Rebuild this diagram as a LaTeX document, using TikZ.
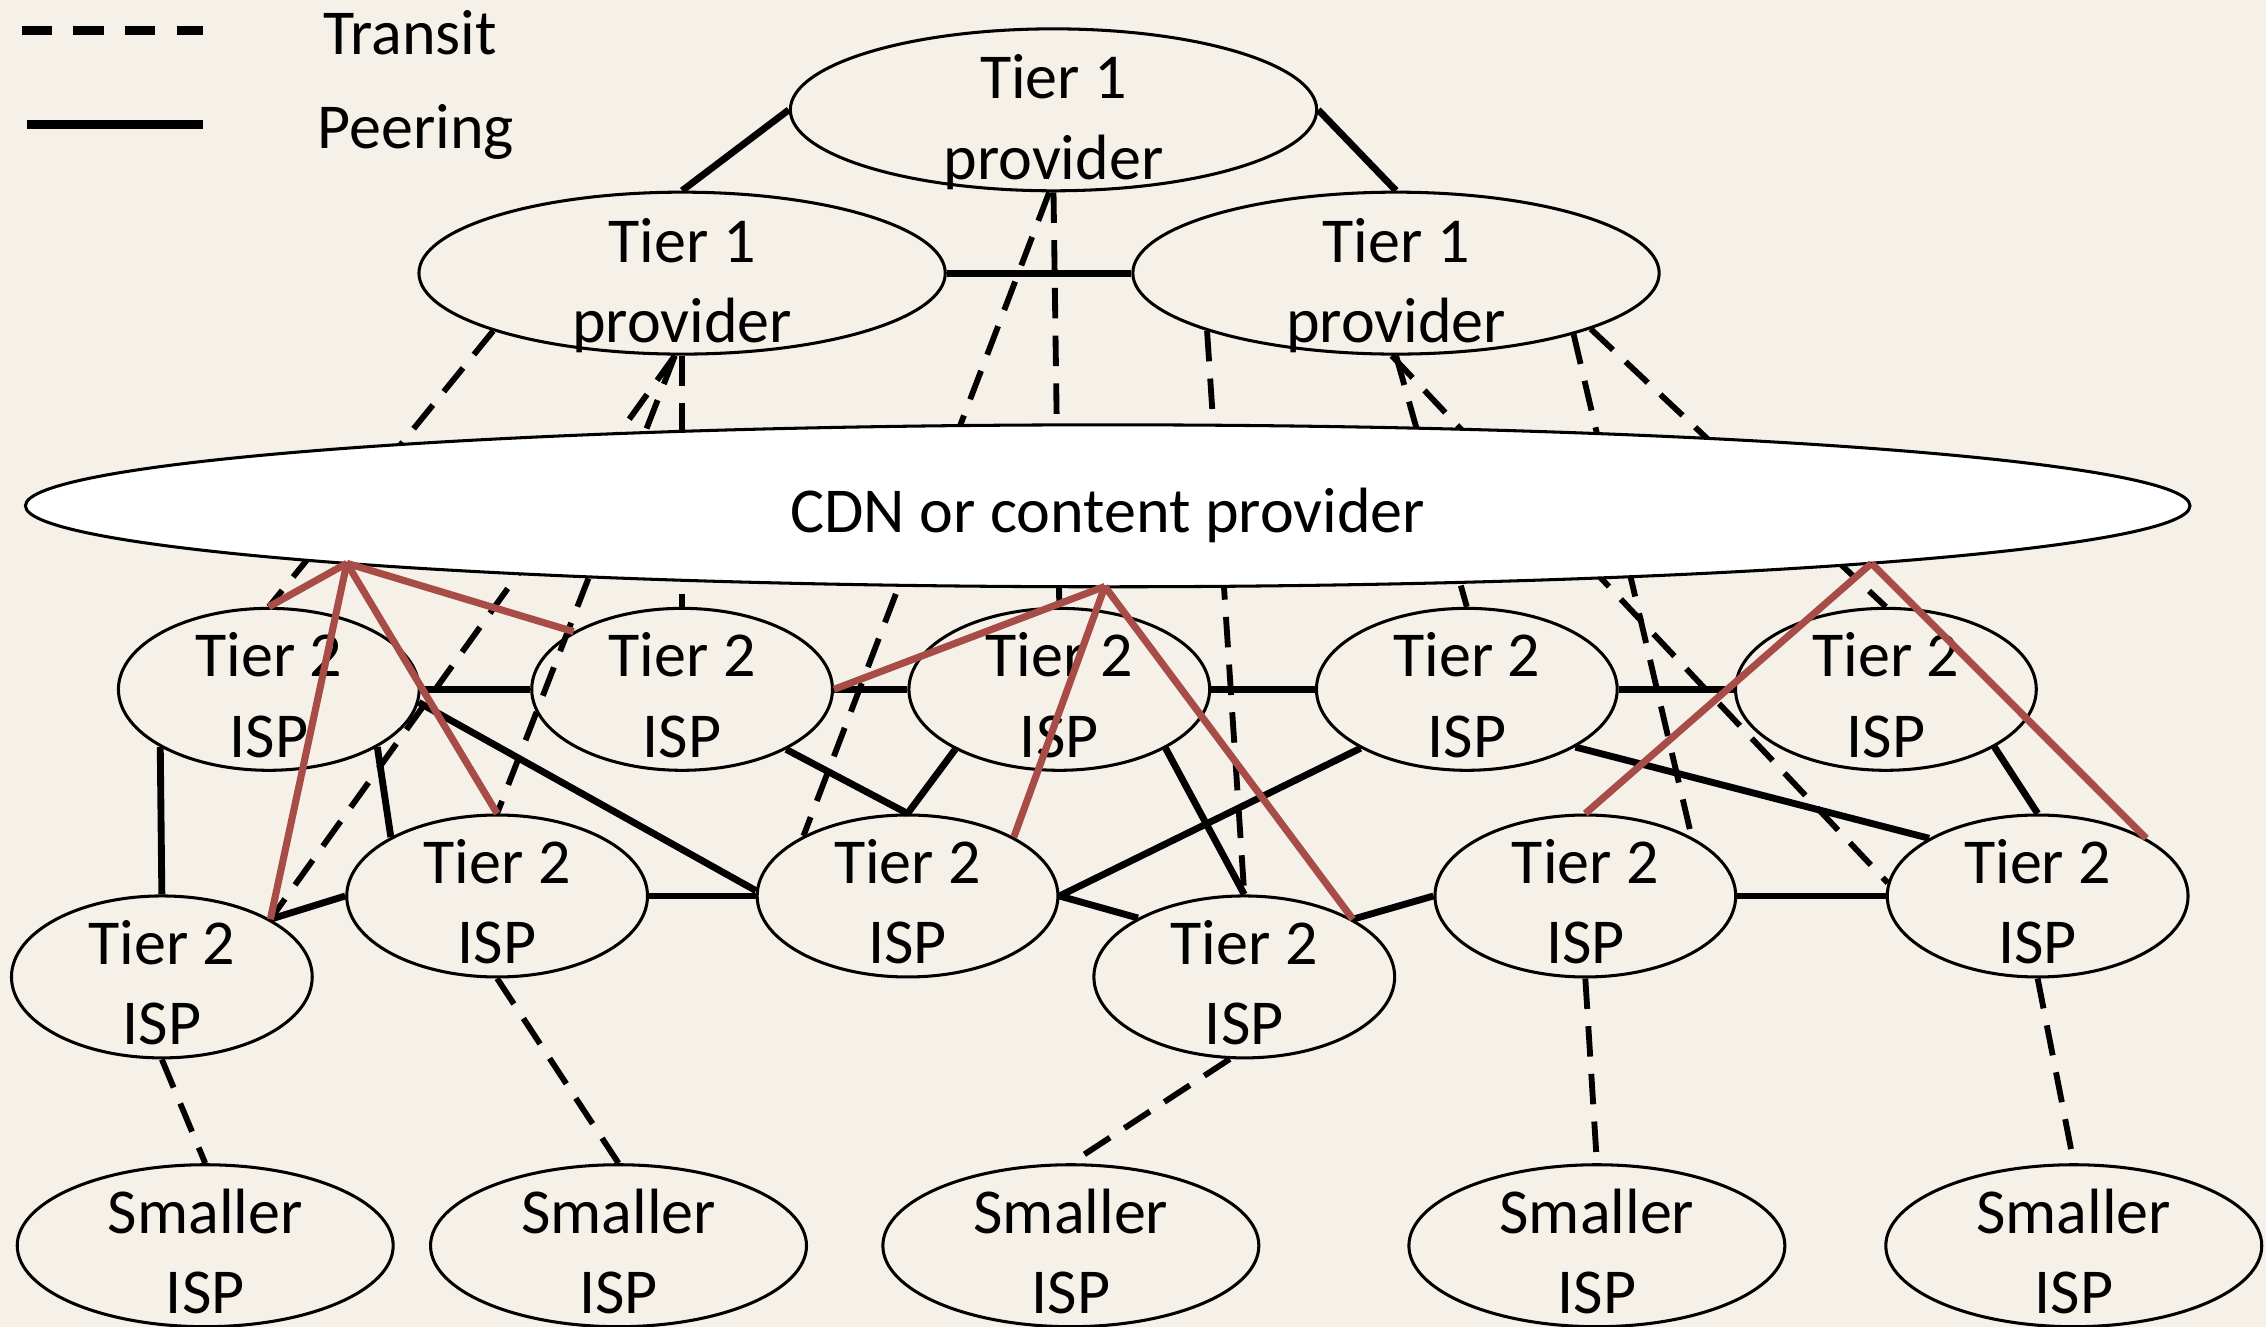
\documentclass[tikz,border=0pt]{standalone}
\usepackage{fontspec}
\setmainfont{Carlito}
\usetikzlibrary{shapes.geometric}
\definecolor{bgc}{RGB}{245,241,233}
\definecolor{redl}{RGB}{168,76,72}
\begin{document}
\begin{tikzpicture}[x=0.01cm,y=-0.01cm,
  every node/.style={font=\fontsize{12.6}{15.8}\selectfont},
  ell/.style={ellipse, draw, line width=0.6pt, inner sep=0pt, minimum height=1.12cm},
  tone/.style={ell, minimum width=3.64cm, label={[yshift=-0.085cm, align=center]center:Tier 1\\provider}},
  ttwo/.style={ell, minimum width=2.08cm, label={[yshift=-0.04cm, align=center]center:Tier 2\\ISP}},
  small/.style={ell, minimum width=2.6cm, label={[yshift=-0.04cm, align=center]center:Smaller\\ISP}},
  transit/.style={line width=1.15pt, dash pattern=on 6pt off 3.4pt},
  peer/.style={line width=1.35pt},
  cdnlink/.style={line width=1.4pt, redl},
  legtext/.style={anchor=base west, inner sep=0pt}]
\useasboundingbox (0,0) rectangle (1568,918);
\clip (0,0) rectangle (1568,918);
\fill[bgc] (0,0) rectangle (1568,918);

% Tier 1
\node[tone] (t1t) at (729,76) {};
\node[tone] (t1l) at (472,189) {};
\node[tone] (t1r) at (966,189) {};
% Tier 2
\node[ttwo] (t2a) at (186,477) {};
\node[ttwo] (t2b) at (472,477) {};
\node[ttwo] (t2c) at (733,477) {};
\node[ttwo] (t2d) at (1015,477) {};
\node[ttwo] (t2e) at (1305,477) {};
\node[ttwo] (t2g) at (344,620) {};
\node[ttwo] (t2h) at (628,620) {};
\node[ttwo] (t2j) at (1097,620) {};
\node[ttwo] (t2k) at (1410,620) {};
\node[ttwo] (t2f) at (112,676) {};
\node[ttwo] (t2i) at (861,676) {};
% Smaller
\node[small] (s1) at (142,862) {};
\node[small] (s2) at (428,862) {};
\node[small] (s3) at (741,862) {};
\node[small] (s4) at (1105,862) {};
\node[small] (s5) at (1435,862) {};

% transit from tier 1 (behind CDN)
\draw[transit] (t1l.197) -- (t2a.north);
\draw[transit] (t1l.-95) -- (t2f.28);
\draw[transit] (t1l.-95) -- (t2g.north);
\draw[transit] (t1l.south) -- (t2b.north);
\draw[transit] (t1t.-93) -- (t2h.150);
\draw[transit] (t1t.south) -- (t2c.north);
\draw[transit] (t1r.197) -- (t2i.north);
\draw[transit] (t1r.south) -- (t2d.north);
\draw[transit] (t1r.-93) -- (t2k.175);
\draw[transit] (t1r.-19) -- (t2j.29);
\draw[transit] (t1r.-16) -- (t2e.north);

% CDN
\node[ellipse, draw, fill=white, line width=0.6pt, inner sep=0pt,
  minimum width=14.97cm, minimum height=1.12cm,
  label={[yshift=-0.064cm]center:CDN or content provider}] (cdn) at (766.5,350) {};

% peering tier 1
\draw[peer] (t1t.west) -- (t1l.north);
\draw[peer] (t1t.east) -- (t1r.north);
\draw[peer] (t1l.east) -- (t1r.west);

% peering tier 2
\draw[peer] (t2a.east) -- (t2b.west);
\draw[peer] (t2b.east) -- (t2c.west);
\draw[peer] (t2c.east) -- (t2d.west);
\draw[peer] (t2d.east) -- (t2e.west);
\draw[peer] (t2a.208) -- (t2f.north);
\draw[peer] (t2a.-28) -- (t2g.151);
\draw[peer] (t2a.-5) -- (t2h.178);
\draw[peer] (t2f.28) -- (t2g.west);
\draw[peer] (t2g.east) -- (t2h.west);
\draw[peer] (t2b.-30) -- (t2h.north);
\draw[peer] (t2c.-150) -- (t2h.north);
\draw[peer] (t2c.-29) -- (t2i.north);
\draw[peer] (t2d.-151) -- (t2h.east);
\draw[peer] (t2h.east) -- (t2i.151);
\draw[peer] (t2i.28) -- (t2j.west);
\draw[peer] (t2d.-28) -- (t2k.152);
\draw[peer] (t2e.-28) -- (t2k.north);
\draw[peer] (t2j.east) -- (t2k.west);

% transit to smaller ISPs
\draw[transit] (t2f.south) -- (s1.north);
\draw[transit] (t2g.south) -- (s2.north);
\draw[transit] (t2i.-100) -- (s3.north);
\draw[transit] (t2j.south) -- (s4.north);
\draw[transit] (t2k.south) -- (s5.north);

% CDN links (apexes on the lower border of the CDN ellipse)
\coordinate (ra) at (240,389.8);
\coordinate (rb) at (764.5,405.8);
\coordinate (rc) at (1295,389.8);
\draw[cdnlink] (ra) -- (t2a.north);
\draw[cdnlink] (ra) -- (t2b.152);
\draw[cdnlink] (ra) -- (t2f.28);
\draw[cdnlink] (ra) -- (t2g.north);
\draw[cdnlink] (rb) -- (t2b.east);
\draw[cdnlink] (rb) -- (t2h.29);
\draw[cdnlink] (rb) -- (t2i.28);
\draw[cdnlink] (rc) -- (t2j.north);
\draw[cdnlink] (rc) -- (t2k.28);

% legend
\coordinate (la1) at (15,21);
\coordinate (la2) at (140.5,21);
\coordinate (lb1) at (19,86);
\coordinate (lb2) at (140.5,86);
\draw[line width=1.8pt, dash pattern=on 5.97pt off 4.2pt] (la1) -- (la2);
\draw[line width=1.8pt] (lb1) -- (lb2);
\node[legtext] (ltransit) at (223,38) {Transit};
\node[legtext] (lpeering) at (219,102.6) {Peering};
\end{tikzpicture}
\end{document}
